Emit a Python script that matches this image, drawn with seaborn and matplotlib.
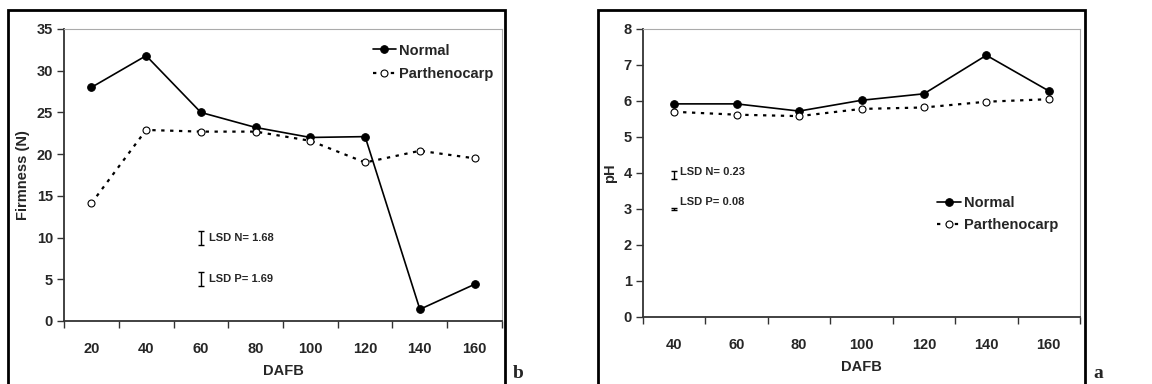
import numpy as np
import pandas as pd
import matplotlib
matplotlib.use("Agg")
import matplotlib.pyplot as plt
import seaborn as sns
from matplotlib.patches import Rectangle

# ---- data ----
dafb_b = ["20", "40", "60", "80", "100", "120", "140", "160"]
firm_normal = [28.0, 31.8, 25.0, 23.2, 22.0, 22.1, 1.4, 4.4]
firm_parth = [14.1, 22.9, 22.7, 22.7, 21.6, 19.0, 20.4, 19.5]

dafb_a = ["40", "60", "80", "100", "120", "140", "160"]
ph_normal = [5.92, 5.92, 5.72, 6.02, 6.20, 7.27, 6.28]
ph_parth = [5.70, 5.62, 5.58, 5.78, 5.82, 5.98, 6.05]

series_names = ["Normal", "Parthenocarp"]
lsd_b_labels = ["LSD N= 1.68", "LSD P= 1.69"]
lsd_b_values = [1.68, 1.69]
lsd_b_centers = [9.9, 5.0]
lsd_a_labels = ["LSD N= 0.23", "LSD P= 0.08"]
lsd_a_values = [0.23, 0.08]
lsd_a_centers = [3.95, 3.0]

sns.set_theme(style="white")
plt.rcParams['font.family'] = ['Liberation Sans', 'DejaVu Sans']
plt.rcParams['font.weight'] = 'bold'

W, H = 1152, 384
fig = plt.figure(figsize=(W / 100, H / 100), dpi=100)


def px_axes(l, t, r, b):
    return fig.add_axes([l / W, (H - b) / H, (r - l) / W, (b - t) / H])


def style_axes(ax, cats, ymax, ylabel):
    n = len(cats)
    ax.set_xlim(-0.5, n - 0.5)
    ax.set_ylim(0, ymax)
    ax.set_xticks(range(n))
    ax.set_xticklabels(cats, fontsize=10.5, fontweight='bold')
    ax.set_xticks(np.arange(-0.5, n, 1.0), minor=True)
    ax.tick_params(axis='x', which='major', length=0, pad=15)
    ax.tick_params(axis='x', which='minor', length=5, width=1, color='#333333', direction='out', bottom=True)
    ax.tick_params(axis='y', which='major', length=5, width=1, color='#333333', direction='out', left=True, pad=3,
                   labelsize=10.5)
    for s in ['left', 'bottom']:
        ax.spines[s].set_color('#333333')
        ax.spines[s].set_linewidth(1.3)
    for s in ['top', 'right']:
        ax.spines[s].set_color('#aaaaaa')
        ax.spines[s].set_linewidth(0.8)
    ax.set_xlabel("DAFB", fontsize=10.5, fontweight='bold', labelpad=6)
    ax.set_ylabel(ylabel, fontsize=10.5, fontweight='bold', labelpad=5)
    ax.set_facecolor('white')


def draw_series(ax, cats, normal, parth):
    x = np.arange(len(cats))
    df_n = pd.DataFrame({"x": x, "y": normal})
    df_p = pd.DataFrame({"x": x, "y": parth})
    sns.lineplot(data=df_n, x="x", y="y", ax=ax, color='black', lw=1.2, marker='o', markersize=5.5,
                 markerfacecolor='black', markeredgecolor='black', label=series_names[0])
    sns.lineplot(data=df_p, x="x", y="y", ax=ax, color='black', lw=1.6, marker='o', markersize=5,
                 markerfacecolor='white', markeredgecolor='black', markeredgewidth=0.8,
                 dashes=False, label=series_names[1])
    ax.lines[-1].set_linestyle((0, (1.5, 2.5)))


# ---- panel b ----
axb = px_axes(64, 29, 502, 321)
draw_series(axb, dafb_b, firm_normal, firm_parth)
style_axes(axb, dafb_b, 35, "Firmness (N)")
axb.set_yticks(range(0, 36, 5))
for lab in axb.get_yticklabels():
    lab.set_fontweight('bold')
for c, v, t in zip(lsd_b_centers, lsd_b_values, lsd_b_labels):
    axb.errorbar([2], [c], yerr=[v / 2], fmt='none', ecolor='black', elinewidth=1, capsize=2.5, capthick=1)
    axb.annotate(t, xy=(2, c), xytext=(6, 0), textcoords='offset points', va='center', ha='left',
                 fontsize=8, fontweight='bold')
legb = axb.legend(loc='upper right', bbox_to_anchor=(1.0, 0.98), frameon=False, fontsize=10.5,
                  handlelength=1.6, handletextpad=0.2, labelspacing=0.65, borderaxespad=0.2)
for t in legb.get_texts():
    t.set_fontweight('bold')

# ---- panel a ----
axa = px_axes(643, 29, 1080, 317)
draw_series(axa, dafb_a, ph_normal, ph_parth)
style_axes(axa, dafb_a, 8, "pH")
axa.set_yticks(range(0, 9, 1))
for lab in axa.get_yticklabels():
    lab.set_fontweight('bold')
for c, v, t, dy in zip(lsd_a_centers, lsd_a_values, lsd_a_labels, [2, 5]):
    axa.errorbar([0], [c], yerr=[v / 2], fmt='none', ecolor='black', elinewidth=1, capsize=2.5, capthick=1)
    axa.annotate(t, xy=(0, c), xytext=(4, dy), textcoords='offset points', va='center', ha='left',
                 fontsize=8, fontweight='bold')
lega = axa.legend(loc='upper left', bbox_to_anchor=(0.66, 0.44), frameon=False, fontsize=10.5,
                  handlelength=1.6, handletextpad=0.2, labelspacing=0.55, borderaxespad=0.0)
for t in lega.get_texts():
    t.set_fontweight('bold')

# ---- outer panel boxes and letters ----
fig.patches.append(Rectangle((8 / W, -0.05), (505 - 8) / W, (H - 10) / H + 0.05, transform=fig.transFigure,
                             fill=False, edgecolor='black', lw=2))
fig.patches.append(Rectangle((598 / W, -0.05), (1085 - 598) / W, (H - 10) / H + 0.05, transform=fig.transFigure,
                             fill=False, edgecolor='black', lw=2))
fig.text(513 / W, (H - 373) / H, "b", family=['Liberation Serif', 'DejaVu Serif'], fontsize=14,
         fontweight='bold', va='center', ha='left')
fig.text(1093 / W, (H - 373) / H, "a", family=['Liberation Serif', 'DejaVu Serif'], fontsize=14,
         fontweight='bold', va='center', ha='left')

fig.savefig("out.png", dpi=100, facecolor='white')
